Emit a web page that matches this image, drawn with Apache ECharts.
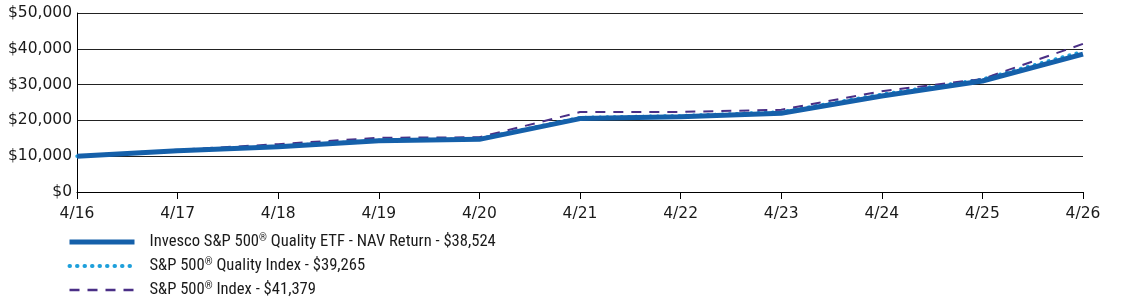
<!DOCTYPE html>
<html>
<head>
<meta charset="utf-8">
<script src="https://cdn.jsdelivr.net/npm/echarts@6/dist/echarts.min.js"></script>
<style>
  html, body { margin: 0; padding: 0; background: #fff; }
  #chart { width: 1123px; height: 304px; }
</style>
</head>
<body>
<div id="chart"></div>
<script>
// Growth of $10,000, yearly points
const periods = ['4/16', '4/17', '4/18', '4/19', '4/20', '4/21', '4/22', '4/23', '4/24', '4/25', '4/26'];
const etfValues = [10000, 11500, 12650, 14300, 14700, 20500, 21000, 22000, 26800, 31000, 38524];
const qualityValues = [10000, 11560, 12750, 14450, 14880, 20800, 21300, 22350, 27300, 31500, 39265];
const spValues = [10000, 11790, 13360, 15160, 15290, 22320, 22370, 22960, 28160, 31570, 41379];

const etfName = 'Invesco S&P 500\u00AE Quality ETF - NAV Return - $38,524';
const qualityName = 'S&P 500\u00AE Quality Index - $39,265';
const spName = 'S&P 500\u00AE Index - $41,379';

const etfColor = '#1560aa';
const qualityColor = '#1ea0db';
const spColor = '#4a2f86';

const chart = echarts.init(document.getElementById('chart'));
const axisFont = 'DejaVu Sans';
const legendFont = '"Roboto Condensed", "Liberation Sans"';

chart.setOption({
  animation: false,
  grid: { left: 77, right: 40, top: 13, bottom: 112 },
  legend: {
    orient: 'vertical',
    left: 67,
    top: 233,
    padding: 0,
    height: 72,
    itemWidth: 65,
    itemHeight: 16,
    itemGap: 6,
    itemStyle: { opacity: 0 },
    formatter: name => name.replace('\u00AE', '{sup|\u00AE}'),
    textStyle: {
      fontFamily: legendFont,
      fontSize: 16.6,
      lineHeight: 16,
      color: '#1a1a1a',
      padding: [0, 0, 0, 10],
      rich: {
        sup: { fontFamily: legendFont, fontSize: 10, lineHeight: 16, color: '#1a1a1a', padding: [0, 0, 8, 0] }
      }
    },
    data: [
      { name: etfName, lineStyle: { width: 5, color: etfColor } },
      { name: qualityName, lineStyle: { width: 4, color: qualityColor, type: [0.5, 7], cap: 'round' } },
      { name: spName, lineStyle: { width: 2.5, color: spColor, type: [10, 8] } }
    ]
  },
  xAxis: {
    type: 'category',
    data: periods,
    boundaryGap: false,
    axisLine: { lineStyle: { color: '#000', width: 1 } },
    axisTick: { alignWithLabel: true, length: 7, lineStyle: { color: '#000' } },
    axisLabel: { fontFamily: axisFont, fontSize: 15.5, color: '#1a1a1a', margin: 14 },
    splitLine: { show: false }
  },
  yAxis: {
    type: 'value',
    min: 0,
    max: 50000,
    interval: 10000,
    axisLine: { show: true, lineStyle: { color: '#000' } },
    axisTick: { show: false },
    axisLabel: {
      fontFamily: axisFont,
      fontSize: 15.5,
      color: '#1a1a1a',
      margin: 5,
      formatter: v => '$' + v.toLocaleString('en-US')
    },
    splitLine: { lineStyle: { color: '#222', width: 1 } }
  },
  series: [
    {
      name: spName,
      type: 'line',
      data: spValues,
      symbol: 'none',
      z: 3,
      lineStyle: { color: spColor, width: 2, type: [10, 8] },
      itemStyle: { color: spColor }
    },
    {
      name: qualityName,
      type: 'line',
      data: qualityValues,
      symbol: 'none',
      z: 2,
      lineStyle: { color: qualityColor, width: 3.5, type: [0.5, 6.7], cap: 'round' },
      itemStyle: { color: qualityColor }
    },
    {
      name: etfName,
      type: 'line',
      data: etfValues,
      symbol: 'none',
      z: 4,
      lineStyle: { color: etfColor, width: 5 },
      itemStyle: { color: etfColor }
    }
  ]
});
</script>
</body>
</html>
